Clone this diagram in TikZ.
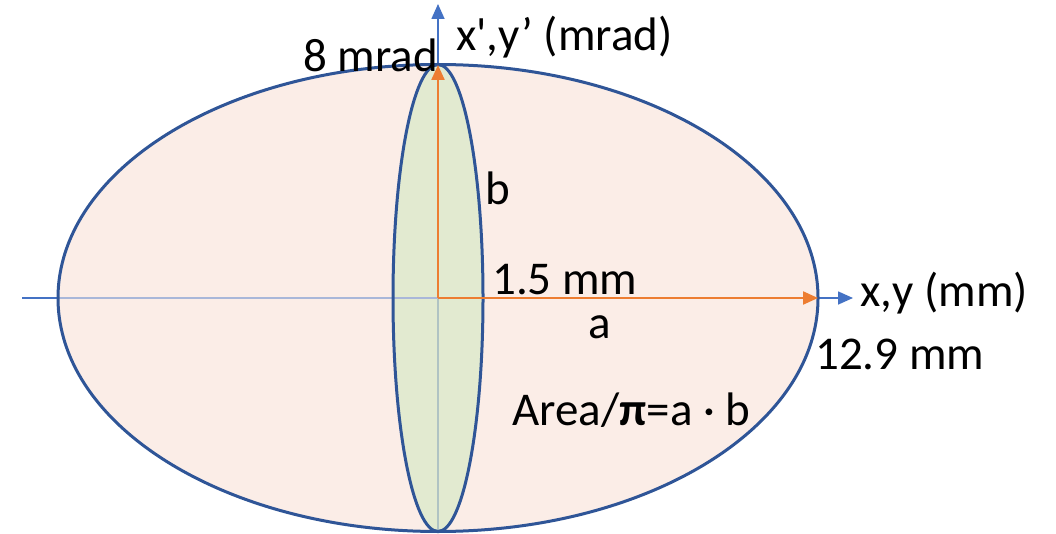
\documentclass[tikz,border=0pt]{standalone}
\usepackage{fontspec}
\setmainfont{Carlito}
\newfontfamily\nomapfont{Carlito}
\usetikzlibrary{arrows.meta}
\definecolor{peach}{HTML}{FBEDE7}
\definecolor{sage}{HTML}{E2EAD0}
\definecolor{edgeblue}{HTML}{2F5597}
\definecolor{axisblue}{HTML}{4472C4}
\definecolor{axislight}{HTML}{A9B7D9}
\definecolor{axisgreen}{HTML}{B0C3C3}
\definecolor{orangeC}{HTML}{ED7D31}
\tikzset{
  lbl/.style={inner sep=0pt, font=\fontsize{47}{47}\selectfont, text=black},
  axisline/.style={draw=axisblue, line width=1.6pt, -{Triangle[length=15pt,width=13pt]}},
  orangearrow/.style={draw=orangeC, line width=2.2pt, -{Triangle[length=15pt,width=13pt]}},
  ellipseedge/.style={draw=edgeblue, line width=3pt},
}
\begin{document}
\begin{tikzpicture}[x=1pt,y=-1pt]
\useasboundingbox (0,0) rectangle (1056,534);
\coordinate (O) at (438,298);
\coordinate (L) at (22,298);
\coordinate (XT) at (853,298);
\coordinate (YT) at (438,4);
\coordinate (B) at (438,532);
\coordinate (BL) at (58,298);
\coordinate (BR) at (818,298);
\coordinate (BT) at (438,65);
% axes
\draw[axisline] (L) -- (XT);
\draw[axisline] (B) -- (YT);
% ellipses fill
\fill[peach] (O) ellipse [x radius=380, y radius=233.5];
\fill[sage] (O) ellipse [x radius=45, y radius=233.5];
% faded axis segments inside
\draw[axislight, line width=1.6pt] (BL) -- (BR);
\draw[axisgreen, line width=1.6pt] (B) -- (BT);
% outlines
\draw[ellipseedge] (O) ellipse [x radius=380, y radius=233.5];
\draw[ellipseedge] (O) ellipse [x radius=45, y radius=233.5];
% orange arrows
\draw[orangearrow] (O) -- (BR);
\draw[orangearrow] (O) -- (BT);
% labels
\node[lbl, anchor=west] (ylab) at (456,37) {x{\nomapfont '},y’ (mrad)};
\node[lbl, anchor=east] (mrad) at (438,55) {8 mrad};
\node[lbl, anchor=west] (blab) at (485,188) {b};
\node[lbl, anchor=west] (amp) at (492,280) {1.5 mm};
\node[lbl, anchor=west] (alab) at (588,327) {a};
\node[lbl, anchor=west] (xlab) at (860,293) {x,y (mm)};
\node[lbl, anchor=west] (mm) at (815,354) {12.9 mm};
\node[lbl, anchor=west] (area) at (512,410) {Area/\textbf{π}=a {·} b};
\end{tikzpicture}
\end{document}
